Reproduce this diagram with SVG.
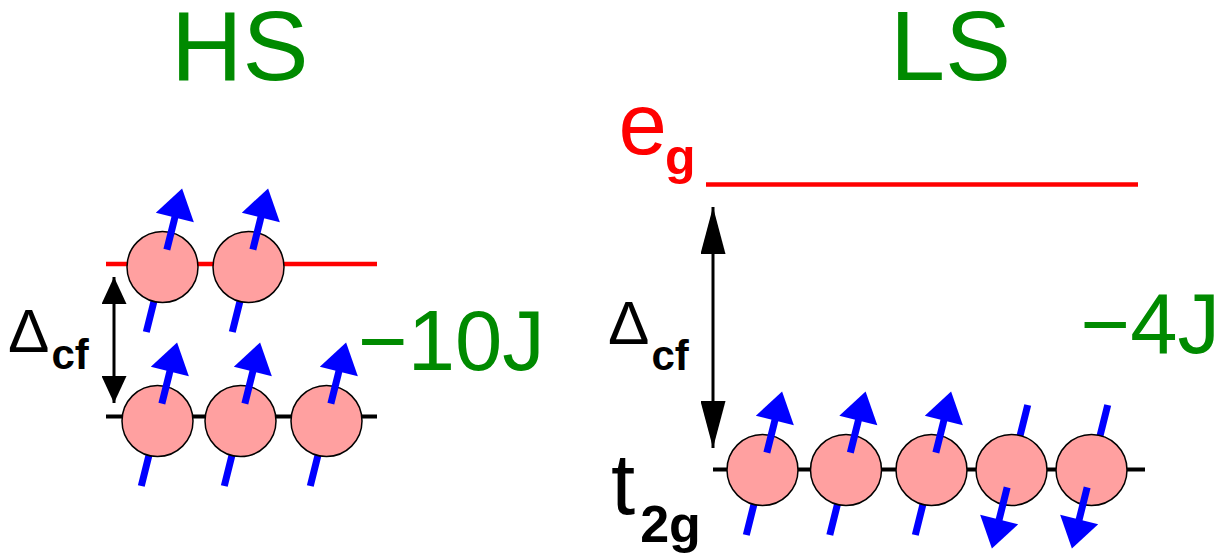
<svg xmlns="http://www.w3.org/2000/svg" xmlns:xlink="http://www.w3.org/1999/xlink" width="1221" height="557" viewBox="0 0 1221 557">
<style>
.orb{fill:#ffa0a0;stroke:#000;stroke-width:1.5}
.spin{stroke:#0000ff;stroke-width:7;fill:none}
.head{fill:#0000ff}
.lvl-e{stroke:#ff0000;stroke-width:4.5}
.lvl-t{stroke:#000;stroke-width:4}
.gap{stroke:#000;stroke-width:3}
.t{font-family:"Liberation Sans",Arial,sans-serif}
.green{fill:#008a00}
.b{font-weight:bold}
</style>
<defs>
<g id="tail"><line x1="0" y1="67" x2="0" y2="20" class="spin"/></g>
<g id="arr"><line x1="0" y1="-18" x2="0" y2="-53" class="spin"/><polygon class="head" points="-19.6,-51 19.6,-51 0,-81"/></g>
<marker id="mS" markerUnits="userSpaceOnUse" markerWidth="27" markerHeight="25" refX="27" refY="12.5" orient="auto-start-reverse" viewBox="0 0 27 25"><path d="M0,0 L27,12.5 L0,25 z" fill="#000"/></marker>
<marker id="mL" markerUnits="userSpaceOnUse" markerWidth="47" markerHeight="25" refX="47" refY="12.5" orient="auto-start-reverse" viewBox="0 0 47 25"><path d="M0,0 L47,12.5 L0,25 z" fill="#000"/></marker>
</defs>
<rect width="1221" height="557" fill="#fff"/>

<g id="titles">
<text class="t green" x="171" y="80" font-size="99">HS</text>
<text class="t green" x="890" y="80" font-size="99">LS</text>
<text class="t green" x="358" y="370" font-size="85">−10J</text>
<text class="t green" x="1080.5" y="353" font-size="85">−4J</text>
</g>

<g id="labels">
<text class="t" x="8" y="352" font-size="62">Δ<tspan class="b" font-size="42" dx="2" dy="17">cf</tspan></text>
<text class="t" x="608" y="344" font-size="62">Δ<tspan class="b" font-size="42" dx="2" dy="26">cf</tspan></text>
<text class="t" x="618.5" y="154" font-size="87" fill="#ff0000">e<tspan class="b" font-size="50" dx="-2" dy="19.5">g</tspan></text>
<text class="t" x="611" y="514" font-size="87">t<tspan class="b" font-size="52" dx="5" dy="28">2g</tspan></text>
</g>

<g id="levels">
<line class="lvl-e" x1="106" y1="264" x2="377" y2="264"/>
<line class="lvl-t" x1="106" y1="416.5" x2="377" y2="416.5"/>
<line class="lvl-e" x1="706" y1="184.5" x2="1138" y2="184.5"/>
<line class="lvl-t" x1="713" y1="469.5" x2="1145" y2="469.5"/>
</g>

<g id="connectors">
<line class="gap" x1="114" y1="277" x2="114" y2="403" marker-start="url(#mS)" marker-end="url(#mS)"/>
<line class="gap" x1="713" y1="207" x2="713" y2="448" marker-start="url(#mL)" marker-end="url(#mL)"/>
</g>

<g id="hs-eg-1" transform="translate(162.5,267)"><use href="#tail" transform="rotate(14)"/><circle class="orb" r="35.5"/><use href="#arr" transform="rotate(14)"/></g>
<g id="hs-eg-2" transform="translate(248.5,267)"><use href="#tail" transform="rotate(14)"/><circle class="orb" r="35.5"/><use href="#arr" transform="rotate(14)"/></g>
<g id="hs-t2g-1" transform="translate(157.5,421)"><use href="#tail" transform="rotate(14)"/><circle class="orb" r="35.5"/><use href="#arr" transform="rotate(14)"/></g>
<g id="hs-t2g-2" transform="translate(240.5,421)"><use href="#tail" transform="rotate(14)"/><circle class="orb" r="35.5"/><use href="#arr" transform="rotate(14)"/></g>
<g id="hs-t2g-3" transform="translate(326.5,421)"><use href="#tail" transform="rotate(14)"/><circle class="orb" r="35.5"/><use href="#arr" transform="rotate(14)"/></g>

<g id="ls-t2g-1" transform="translate(762.5,470)"><use href="#tail" transform="rotate(14)"/><circle class="orb" r="35.5"/><use href="#arr" transform="rotate(14)"/></g>
<g id="ls-t2g-2" transform="translate(846,470)"><use href="#tail" transform="rotate(14)"/><circle class="orb" r="35.5"/><use href="#arr" transform="rotate(14)"/></g>
<g id="ls-t2g-3" transform="translate(931.5,470)"><use href="#tail" transform="rotate(14)"/><circle class="orb" r="35.5"/><use href="#arr" transform="rotate(14)"/></g>
<g id="ls-t2g-4" transform="translate(1011.5,470)"><use href="#tail" transform="rotate(194)"/><circle class="orb" r="35.5"/><use href="#arr" transform="rotate(194)"/></g>
<g id="ls-t2g-5" transform="translate(1091.5,470)"><use href="#tail" transform="rotate(194)"/><circle class="orb" r="35.5"/><use href="#arr" transform="rotate(194)"/></g>
</svg>
